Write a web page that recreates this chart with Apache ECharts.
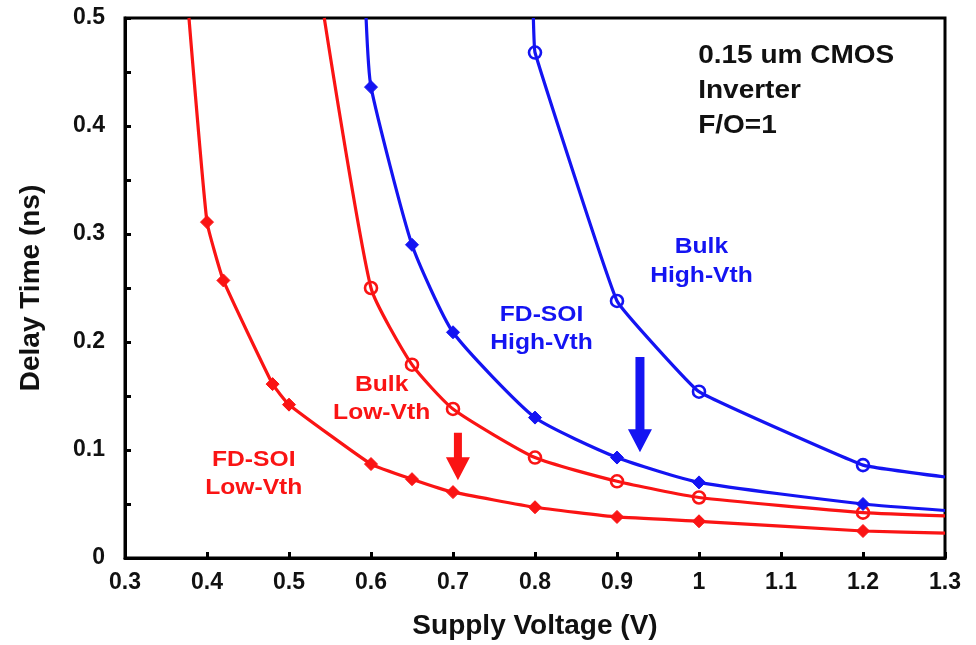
<!DOCTYPE html>
<html><head><meta charset="utf-8">
<script src="https://cdn.jsdelivr.net/npm/echarts@6/dist/echarts.min.js"></script>
<style>html,body{margin:0;padding:0;background:#fff}#c{width:976px;height:645px}</style>
</head><body><div id="c"></div>
<script>
// Supply voltage (V) / delay time (ns) per curve
const fdsoiLowX  = [0.378, 0.40, 0.42, 0.48, 0.50, 0.60, 0.65, 0.70, 0.80, 0.90, 1.00, 1.20, 1.30];
const fdsoiLowY  = [0.500, 0.311, 0.257, 0.161, 0.142, 0.087, 0.073, 0.061, 0.047, 0.038, 0.034, 0.025, 0.023];
const bulkLowX   = [0.543, 0.60, 0.65, 0.70, 0.80, 0.90, 1.00, 1.20, 1.30];
const bulkLowY   = [0.500, 0.250, 0.179, 0.138, 0.093, 0.071, 0.056, 0.042, 0.039];
const fdsoiHighX = [0.594, 0.60, 0.65, 0.70, 0.80, 0.90, 1.00, 1.20, 1.30];
const fdsoiHighY = [0.500, 0.436, 0.290, 0.209, 0.130, 0.093, 0.070, 0.050, 0.044];
const bulkHighX  = [0.798, 0.80, 0.90, 1.00, 1.20, 1.30];
const bulkHighY  = [0.500, 0.468, 0.238, 0.154, 0.086, 0.075];
const xTicks = [0.3, 0.4, 0.5, 0.6, 0.7, 0.8, 0.9, 1, 1.1, 1.2, 1.3];
const yTicks = [0, 0.1, 0.2, 0.3, 0.4, 0.5];

const RED = '#fa1414', BLUE = '#1414f2';
const FONT = '"Liberation Sans", Arial, sans-serif';

function pts(xs, ys) {
  // first and last points are curve ends (no marker)
  return xs.map((x, i) => {
    const d = { value: [x, ys[i]] };
    if (i === 0 || i === xs.length - 1) d.symbol = 'none';
    return d;
  });
}
function lineSeries(name, xs, ys, color, kind, smooth) {
  const s = {
    name, type: 'line', data: pts(xs, ys), smooth: smooth,
    lineStyle: { color, width: 3.2 }, z: 3
  };
  if (kind === 'diamond') {
    s.symbol = 'diamond'; s.symbolSize = 13;
    s.itemStyle = { color, borderColor: color, borderWidth: 1 };
  } else {
    s.symbol = 'circle'; s.symbolSize = 12;
    s.itemStyle = { color: 'rgba(255,255,255,0)', borderColor: color, borderWidth: 2.6 };
  }
  return s;
}

const chart = echarts.init(document.getElementById('c'), null, { renderer: 'canvas' });
const option = {
  animation: false,
  backgroundColor: '#fff',
  grid: { left: 125, right: 31, top: 18, bottom: 87, show: true, borderColor: '#000', borderWidth: 3, backgroundColor: 'transparent' },
  xAxis: {
    type: 'value', min: xTicks[0], max: xTicks[xTicks.length - 1], interval: 0.1,
    axisLine: { show: true, lineStyle: { color: '#000', width: 3 } },
    axisTick: { show: true, inside: true, length: 6, lineStyle: { color: '#000', width: 3 } },
    splitLine: { show: false },
    axisLabel: { color: '#111', fontSize: 23, fontWeight: 'bold', fontFamily: FONT, margin: 13,
      formatter: v => { const r = Math.round(v * 10) / 10; return xTicks.includes(r) ? String(r) : ''; } },
    name: 'Supply Voltage (V)', nameLocation: 'middle', nameGap: 54,
    nameTextStyle: { color: '#111', fontSize: 28, fontWeight: 'bold', fontFamily: FONT }
  },
  yAxis: {
    type: 'value', min: 0, max: 0.5, interval: 0.05,
    axisLine: { show: true, lineStyle: { color: '#000', width: 3 } },
    axisTick: { show: true, inside: true, length: 6, lineStyle: { color: '#000', width: 3 } },
    splitLine: { show: false },
    axisLabel: { color: '#111', fontSize: 23, fontWeight: 'bold', fontFamily: FONT, margin: 20,
      formatter: v => { const r = Math.round(v * 100) / 100; return yTicks.includes(r) ? String(r) : ''; } },
    name: 'Delay Time (ns)', nameLocation: 'middle', nameGap: 80, nameRotate: 90,
    nameTextStyle: { color: '#111', fontSize: 28, fontWeight: 'bold', fontFamily: FONT }
  },
  series: [
    lineSeries('FD-SOI Low-Vth', fdsoiLowX, fdsoiLowY, RED, 'diamond', 0.12),
    lineSeries('Bulk Low-Vth', bulkLowX, bulkLowY, RED, 'circle', 0.18),
    lineSeries('FD-SOI High-Vth', fdsoiHighX, fdsoiHighY, BLUE, 'diamond', 0.18),
    lineSeries('Bulk High-Vth', bulkHighX, bulkHighY, BLUE, 'circle', 0.08)
  ]
};
chart.setOption(option);

// Annotations (placed in data coordinates)
function P(x, y) { return chart.convertToPixel({ gridIndex: 0 }, [x, y]); }
function label(lines, x, y, color, size, align, lh) {
  const p = P(x, y);
  return lines.map((t, i) => ({
    type: 'text', x: p[0], y: p[1] + i * lh, scaleX: 1.12, z: 10,
    style: { text: t, fill: color, font: 'bold ' + size + 'px ' + FONT, textAlign: align, textVerticalAlign: 'middle' }
  }));
}
function arrow(x, yTop, yTip, color, shaftW, headW, headL) {
  const a = P(x, yTop), b = P(x, yTip);
  const cx = a[0], hy = b[1] - headL;
  return {
    type: 'polygon', z: 10,
    shape: { points: [[cx - shaftW / 2, a[1]], [cx + shaftW / 2, a[1]], [cx + shaftW / 2, hy], [cx + headW / 2, hy],
      [cx, b[1]], [cx - headW / 2, hy], [cx - shaftW / 2, hy]] },
    style: { fill: color }
  };
}
const graphics = [].concat(
  label(['FD-SOI', 'Low-Vth'], 0.457, 0.091, RED, 22, 'center', 28),
  label(['Bulk', 'Low-Vth'], 0.613, 0.160, RED, 22, 'center', 28),
  label(['FD-SOI', 'High-Vth'], 0.808, 0.225, BLUE, 22, 'center', 28),
  label(['Bulk', 'High-Vth'], 1.003, 0.288, BLUE, 22, 'center', 29),
  label(['0.15 um CMOS', 'Inverter', 'F/O=1'], 0.999, 0.465, '#111', 25, 'left', 35),
  [arrow(0.928, 0.186, 0.098, BLUE, 9, 24, 23), arrow(0.706, 0.116, 0.072, RED, 8, 24, 23)]
);
chart.setOption({ graphic: graphics });
</script></body></html>
